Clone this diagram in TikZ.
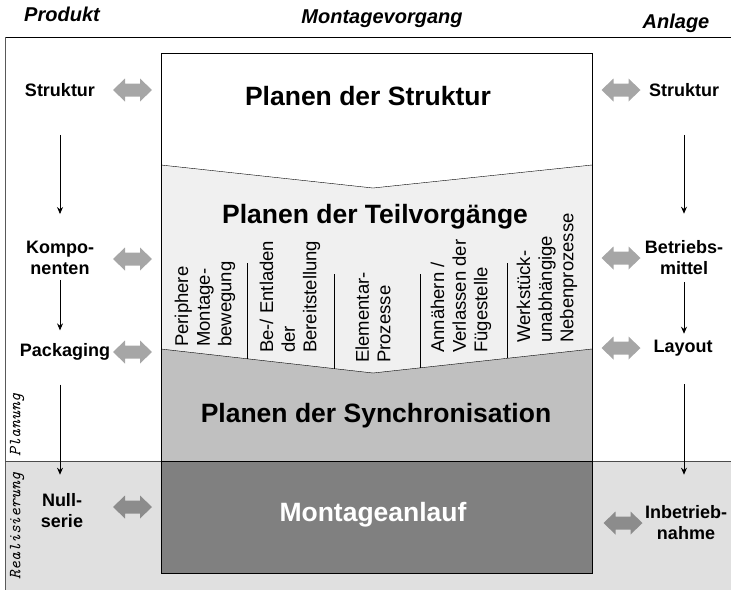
\documentclass[tikz,border=0pt]{standalone}
\usepackage{fontspec}
\setmainfont{Liberation Sans}
\usetikzlibrary{arrows.meta}

\definecolor{teilgray}{HTML}{F0F0F0}
\definecolor{syncgray}{HTML}{C0C0C0}
\definecolor{anlaufgray}{HTML}{808080}
\definecolor{realgray}{HTML}{E0E0E0}
\definecolor{linkgray}{HTML}{A6A6A6}
\definecolor{linkdark}{HTML}{8C8C8C}

\newcommand{\fsz}[2]{\fontsize{#1}{#2}\selectfont}

\tikzset{
  side/.style={font=\bfseries\fsz{18}{21}, align=center, inner sep=0pt},
  title/.style={font=\bfseries\fsz{26.5}{30}, inner sep=0pt},
  sub/.style={font=\fsz{18.5}{21.7}, align=left, rotate=90, anchor=west, inner sep=0pt},
  link/.pic={
    \fill[pic actions] (-19.5,0) -- (-7.5,-11.5) -- (-7.5,-6.5) -- (7.5,-6.5)
      -- (7.5,-11.5) -- (19.5,0) -- (7.5,11.5) -- (7.5,6.5) -- (-7.5,6.5)
      -- (-7.5,11.5) -- cycle;
  },
  flow/.style={-{Stealth[length=7pt,width=6pt]}, line width=0.8pt},
  phase/.style={font=\ttfamily\itshape\fsz{17}{20}, rotate=90, inner sep=0pt},
  head/.style={font=\bfseries\itshape\fsz{20}{22}, inner sep=0pt, anchor=base}
}

\begin{document}
\begin{tikzpicture}[x=1pt, y=-1pt]
\useasboundingbox (0,0) rectangle (731,590);

% Realisierung band and frame
\fill[realgray] (5,461) rectangle (731,590);
\draw[line width=0.8pt] (731,37) -- (5,37);
\draw[black!65, line width=0.8pt] (5,37) -- (5,590);
\draw[black!70, line width=0.8pt] (5,461) -- (731,461);

% column headings
\node[head] (hprod) at (62,21) {Produkt};
\node[head] (hmont) at (382,23) {Montagevorgang};
\node[head] (hanl) at (676,28) {Anlage};

% chevron corners of the centre block
\coordinate (tl) at (161,165);
\coordinate (tm) at (373,188);
\coordinate (tr) at (592,165);
\coordinate (bl) at (161,349);
\coordinate (bm) at (373,373);
\coordinate (br) at (592,349);

% centre block
\fill[white] (161,53) rectangle (592,461);
\fill[teilgray] (tl) -- (tm) -- (tr) -- (br) -- (bm) -- (bl) -- cycle;
\fill[syncgray] (bl) -- (bm) -- (br) -- (592,461) -- (161,461) -- cycle;
\fill[anlaufgray] (161,461) rectangle (592,573);
\draw[line width=0.8pt] (161,53) rectangle (592,573);
\draw (tl) -- (tm) -- (tr);
\draw (bl) -- (bm) -- (br);
\draw[line width=0.8pt] (161,461) -- (592,461);

% dividers between the Teilvorgaenge
\draw (247,263) -- (247,358.7);
\draw (334,274) -- (334,368.6);
\draw (420,274) -- (420,367.8);
\draw (507,263) -- (507,358.3);

% titles
\node[title] (tstruk) at (368,96) {Planen der Struktur};
\node[title] (tteil) at (375,217) {Planen der Teilvorgänge};
\node[title] (tsync) at (376,416) {Planen der Synchronisation};
\node[title, text=white] (tanl) at (373,515) {Montageanlauf};

% Teilvorgaenge
\node[sub] (v1) at (205,347) {Periphere\\Montage-\\bewegung};
\node[sub] (v2) at (290,353) {Be-/ Entladen\\der\\Bereitstellung};
\node[sub] (v3) at (373,363) {Elementar-\\Prozesse};
\node[sub] (v4) at (461,353) {Annähern /\\Verlassen der\\Fügestelle};
\node[sub] (v5) at (547,343) {Werkstück-\\unabhängige\\Nebenprozesse};

% Produkt side
\node[side] (pstruk) at (60,90) {Struktur};
\node[side] (pkomp) at (60,258) {Kompo-\\nenten};
\node[side] (ppack) at (65,352) {Packaging};
\node[side] (pnull) at (62,511) {Null-\\serie};

\draw[flow, shorten <=38pt, shorten >=27pt] (pstruk) -- (pkomp);
\draw[flow, shorten <=5pt, shorten >=13pt] (pkomp) -- (ppack.north -| pkomp);
\draw[flow, shorten <=24pt, shorten >=19pt] (ppack.south -| pstruk) -- (pnull.north -| pstruk);

% Anlage side
\node[side] (astruk) at (684,90) {Struktur};
\node[side] (abm) at (684,258) {Betriebs-\\mittel};
\node[side] (alay) at (683,348) {Layout};
\node[side] (ainb) at (686,523) {Inbetrieb-\\nahme};

\draw[flow, shorten <=38pt, shorten >=27pt] (astruk.south -| abm) -- (abm.north);
\draw[flow, shorten <=7pt, shorten >=6pt] (abm.south) -- (alay.north -| abm);
\draw[flow, shorten <=28pt, shorten >=31pt] (alay.south -| abm) -- (ainb.north -| abm);

% links to the centre block
\pic[fill=linkgray] (lp1) at (132.5,90) {link};
\pic[fill=linkgray] (lp2) at (132.5,259) {link};
\pic[fill=linkgray] (lp3) at (132.5,352) {link};
\pic[fill=linkdark] (lp4) at (132.5,507) {link};
\pic[fill=linkgray] (la1) at (621,90) {link};
\pic[fill=linkgray] (la2) at (621,258) {link};
\pic[fill=linkgray] (la3) at (621,348) {link};
\pic[fill=linkdark] (la4) at (623,523) {link};

% phases
\node[phase] (planung) at (17,425) {Planung};
\node[phase] (realis) at (17,526) {Realisierung};
\end{tikzpicture}
\end{document}
